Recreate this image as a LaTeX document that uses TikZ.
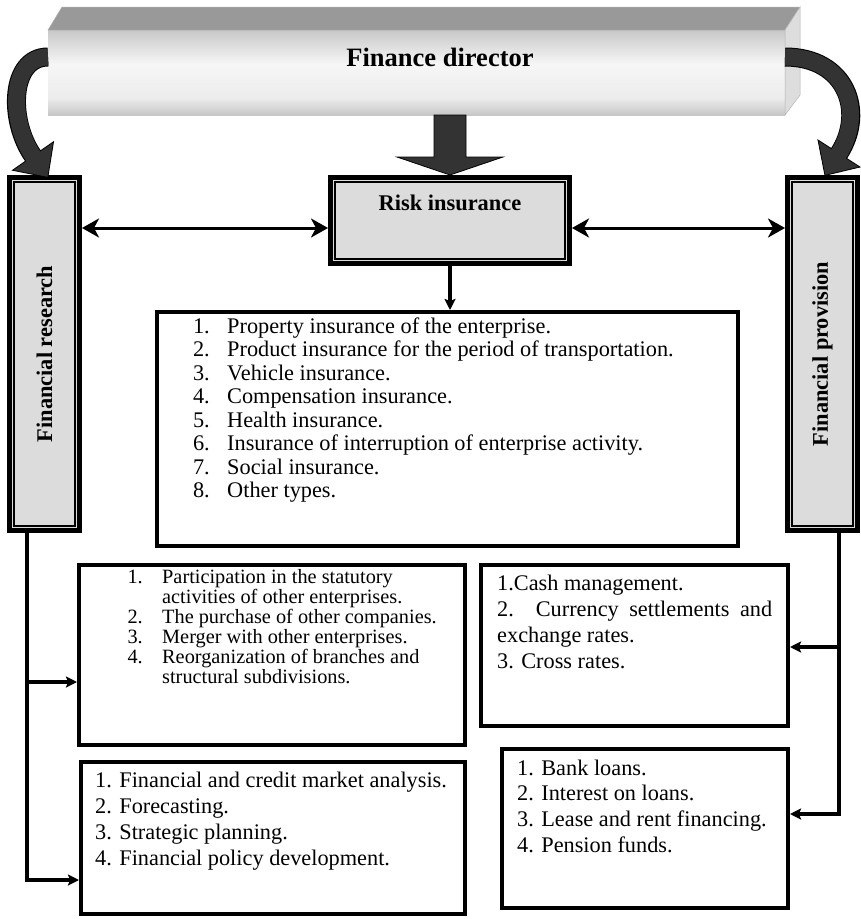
\documentclass[tikz,border=0pt]{standalone}
\usepackage{fontspec}
\setmainfont{Liberation Serif}
\usetikzlibrary{arrows.meta,calc}

\definecolor{arrowfill}{HTML}{333333}
\definecolor{panelfill}{HTML}{DCDCDC}
\definecolor{topface}{HTML}{999999}
\definecolor{sideface}{HTML}{DDDDDD}
\definecolor{fdA}{HTML}{727272}
\definecolor{fdB}{HTML}{A2A2A2}
\definecolor{fdC}{HTML}{ECECEC}
\definecolor{fdD}{HTML}{F6F6F6}
\definecolor{fdE}{HTML}{C8C8C8}
\definecolor{fdF}{HTML}{969696}
\definecolor{fdG}{HTML}{808080}

% front face of the "Finance director" bar: dark top and bottom, bright middle
\pgfdeclareverticalshading{fdfront}{100bp}{color(0bp)=(fdA); color(15bp)=(fdB); color(35bp)=(fdC); color(55bp)=(fdD); color(75bp)=(fdE); color(90bp)=(fdF); color(100bp)=(fdG)}

\tikzset{
  titlefont/.style={font=\fontsize{22.4}{26}\selectfont\bfseries, inner sep=0pt},
  listfont/.style={font=\fontsize{22.3}{26}\selectfont, inner sep=0pt},
  smallfont/.style={font=\fontsize{20.3}{22}\selectfont, inner sep=0pt},
  panel/.style={draw=black, line width=5pt, fill=panelfill, inner sep=0pt},
  innerframe/.style={draw=black, line width=1.3pt},
  listbox/.style={draw=black, line width=4pt, fill=white, inner sep=0pt},
  bandout/.style={line width=19pt, draw=black},
  bandin/.style={line width=17pt, draw=arrowfill, shorten >=-1.5pt},
  bigarrow/.style={fill=arrowfill, draw=black, line width=0.8pt, line join=miter},
  wideline/.style={line width=3pt, {Stealth[length=17pt,width=19pt,inset=5pt]}-{Stealth[length=17pt,width=19pt,inset=5pt]}},
  conn/.style={line width=3.5pt, -{Stealth[length=11pt,width=11pt,inset=2pt]}},
  feed/.style={line width=3.5pt},
}

\begin{document}
\begin{tikzpicture}[x=1pt,y=-1pt]
\useasboundingbox (0,0) rectangle (861,919);
\fill[white] (0,0) rectangle (861,919);

% ---------- grey panels ----------
\node[panel, minimum width=239pt, minimum height=86pt] (risk) at (450,220.5) {};
\node[panel, minimum width=70pt, minimum height=353pt] (fres) at (44.5,354) {};
\node[panel, minimum width=70pt, minimum height=353pt] (fprov) at (822.5,354) {};
\foreach \p in {risk,fres,fprov}
  \draw[innerframe] ([shift={(7,7)}]\p.north west) rectangle ([shift={(-7,-7)}]\p.south east);

\node[titlefont] (risklabel) at ($(risk.north)+(0,28)$) {Risk insurance};
\node[titlefont, rotate=90] (freslabel) at (fres.center) {Financial research};
\node[titlefont, rotate=90] (fprovlabel) at (fprov.center) {Financial provision};

% ---------- top bar ----------
\node[shade, shading=fdfront, minimum width=737pt, minimum height=85pt,
      inner sep=0pt, outer sep=0pt] (fd) at (416.5,72.5) {};

% curved arrow to the left panel (starts under the bar)
\coordinate (lA) at ($(fd.west)+(0,-15.5)$);
\coordinate (lB) at (10,57);
\coordinate (lC) at (8,120);
\coordinate (lD) at ($(fres.north west)+(26,-19)$);
\draw[bandout] (lA) .. controls (lB) and (lC) .. (lD);
\filldraw[bigarrow] ($(lD)!-26pt!(lC)$) -- ($(lD)!25pt!90:(lC)$) -- ($(lD)!25pt!-90:(lC)$) -- cycle;
\draw[bandin] (lA) .. controls (lB) and (lC) .. (lD);

\fill[topface, draw=gray!60, line width=0.5pt] (fd.north west) -- ++(14,-23)
   -- ($(fd.north east)+(15,-23)$) -- (fd.north east) -- cycle;
\fill[sideface, draw=gray!60, line width=0.5pt] (fd.north east) -- ++(15,-23)
   -- ++(0,88) -- (fd.south east) -- cycle;
\node[font=\fontsize{26.5}{30}\selectfont\bfseries, inner sep=0pt] (fdlabel)
   at ($(fd.center)+(23.5,-15.5)$) {Finance director};

% curved arrow to the right panel (lies over the side face)
\coordinate (rA) at ($(fd.east)+(0,-15.5)$);
\coordinate (rB) at (846,57);
\coordinate (rC) at (866,111.5);
\coordinate (rD) at ($(fprov.north east)+(-21,-21.5)$);
\draw[bandout] (rA) .. controls (rB) and (rC) .. (rD);
\filldraw[bigarrow] ($(rD)!-26pt!(rC)$) -- ($(rD)!25pt!90:(rC)$) -- ($(rD)!25pt!-90:(rC)$) -- cycle;
\draw[bandin] (rA) .. controls (rB) and (rC) .. (rD);

% ---------- block arrow down to risk insurance ----------
\coordinate (rt) at (risk.north);
\coordinate (fs) at (fd.south -| rt);
\filldraw[bigarrow] ($(fs)+(-16,0)$) -- ($(rt)+(-16,-18)$) -- ($(rt)+(-53,-18)$)
   -- (rt) -- ($(rt)+(53,-18)$) -- ($(rt)+(16,-18)$) -- ($(fs)+(16,0)$) -- cycle;

% ---------- horizontal links ----------
\coordinate (hy) at (0,228);
\draw[wideline] (fres.east |- hy) -- (risk.west |- hy);
\draw[wideline] (risk.east |- hy) -- (fprov.west |- hy);

% ---------- list boxes ----------
\node[listbox, minimum width=581pt, minimum height=234pt] (ins) at (447.5,429) {};
\node[listbox, minimum width=386pt, minimum height=180pt] (acq) at (272,655) {};
\node[listbox, minimum width=384pt, minimum height=152pt] (anl) at (273,838) {};
\node[listbox, minimum width=307pt, minimum height=161pt] (cash) at (634.5,645.5) {};
\node[listbox, minimum width=286pt, minimum height=159pt] (loans) at (645,828.5) {};

\draw[conn] (risk.south) -- (risk.south |- ins.north);

% left feed line
\coordinate (lbus) at (27,0);
\draw[feed] (lbus |- fres.south) -- (lbus |- 0,880);
\draw[conn] ($(lbus |- 0,880)+(-1.75,0)$) -- (anl.west |- 0,880);
\draw[conn] (lbus |- 0,682) -- (acq.west |- 0,682);

% right feed line
\coordinate (rbus) at (839,0);
\draw[feed] (rbus |- fprov.south) -- (rbus |- 0,814);
\draw[conn] ($(rbus |- 0,814)+(1.75,0)$) -- (loans.east |- 0,814);
\draw[conn] (rbus |- 0,647) -- (cash.east |- 0,647);

% ---------- texts: insurance types ----------
\foreach \t [count=\i] in {Property insurance of the enterprise.,
    Product insurance for the period of transportation.,
    Vehicle insurance., Compensation insurance., Health insurance.,
    Insurance of interruption of enterprise activity.,
    Social insurance., Other types.}{
  \node[listfont, anchor=base east] (insN\i) at (210,{333+23.5*(\i-1)}) {\i.};
  \node[listfont, anchor=base west] (insT\i) at (227,{333+23.5*(\i-1)}) {\t};
}

% ---------- texts: external activities ----------
\node[smallfont, anchor=base east] (acqN1) at (143,583) {1.};
\node[smallfont, anchor=base west] (acqT1) at (162,583) {Participation in the statutory};
\node[smallfont, anchor=base west] (acqT1b) at (162,603) {activities of other enterprises.};
\node[smallfont, anchor=base east] (acqN2) at (143,623) {2.};
\node[smallfont, anchor=base west] (acqT2) at (162,623) {The purchase of other companies.};
\node[smallfont, anchor=base east] (acqN3) at (143,643) {3.};
\node[smallfont, anchor=base west] (acqT3) at (162,643) {Merger with other enterprises.};
\node[smallfont, anchor=base east] (acqN4) at (143,663) {4.};
\node[smallfont, anchor=base west] (acqT4) at (162,663) {Reorganization of branches and};
\node[smallfont, anchor=base west] (acqT4b) at (162,683) {structural subdivisions.};

% ---------- texts: analysis ----------
\foreach \t [count=\i] in {1. Financial and credit market analysis., 2. Forecasting.,
    3. Strategic planning., 4. Financial policy development.}{
  \node[listfont, anchor=base west] (anlT\i) at (95,{787+26*(\i-1)}) {\t};
}

% ---------- texts: cash ----------
\node[listfont, anchor=base west] (cashT1) at (497,590) {1.Cash management.};
\node[listfont, anchor=base west] (cashT2) at (497,616) {\makebox[275pt][s]{2. Currency settlements and}};
\node[listfont, anchor=base west] (cashT2b) at (497,642) {exchange rates.};
\node[listfont, anchor=base west] (cashT3) at (497,668) {3. Cross rates.};

% ---------- texts: loans ----------
\foreach \t [count=\i] in {1. Bank loans., 2. Interest on loans.,
    3. Lease and rent financing., 4. Pension funds.}{
  \node[listfont, anchor=base west] (loanT\i) at (517,{775+25.7*(\i-1)}) {\t};
}
\end{tikzpicture}
\end{document}
